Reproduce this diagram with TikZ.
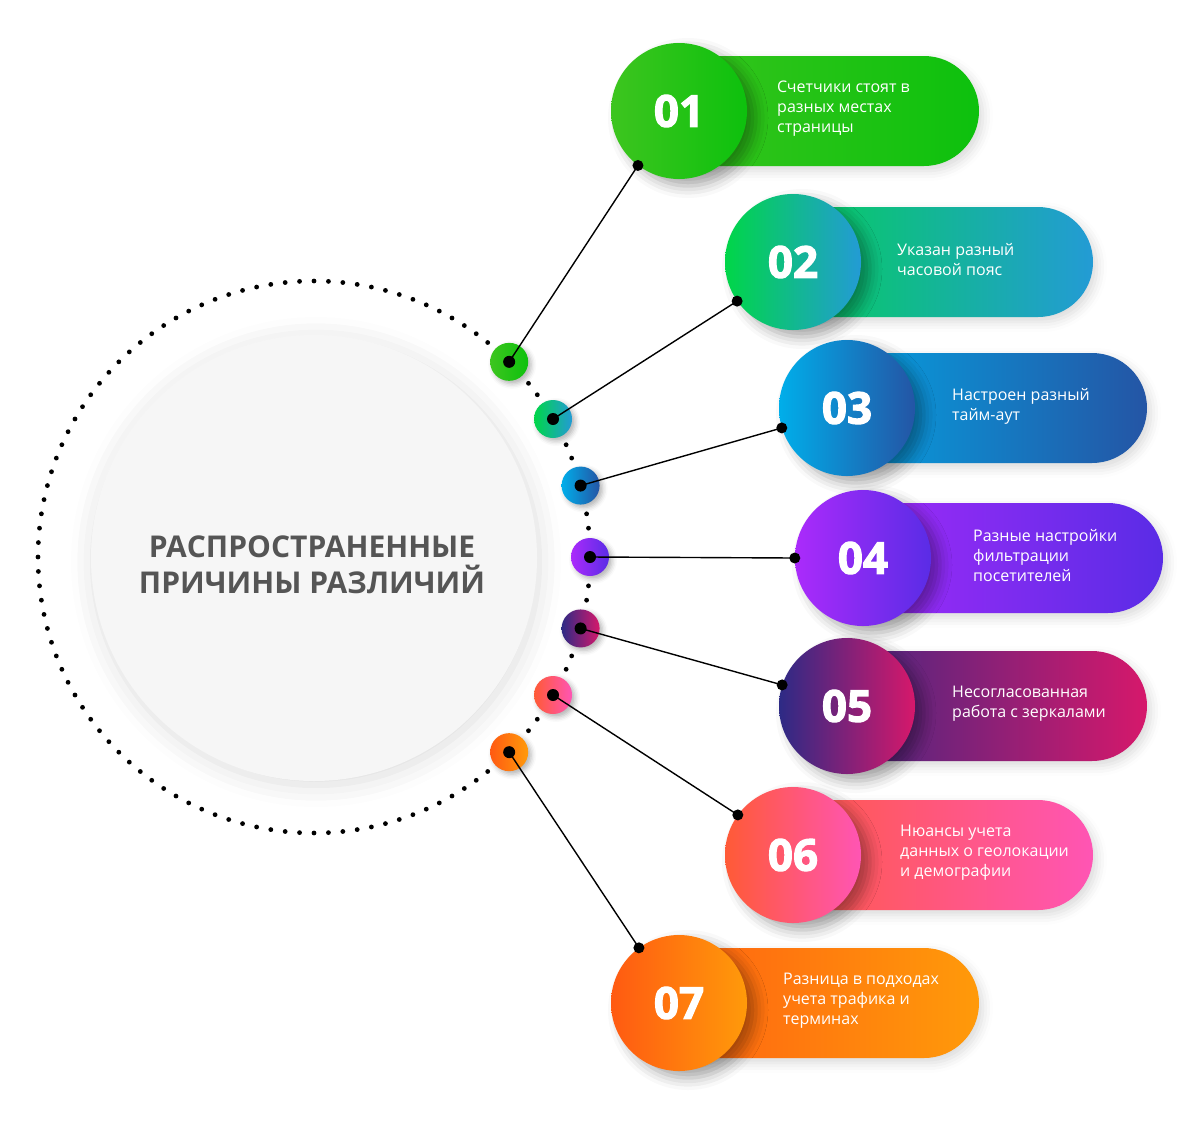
\documentclass[tikz,border=0pt]{standalone}
\usepackage{fontspec}
\setmainfont{Open Sans}
\newfontfamily\numfont[BoldFeatures={FakeBold=2.5}]{Open Sans}
\usetikzlibrary{calc}
\usetikzlibrary{shadows.blur}
\definecolor{bgc}{HTML}{F6F6F6}
\definecolor{titc}{HTML}{555555}
\definecolor{c1a}{HTML}{3DC51F}\definecolor{c1b}{HTML}{0DC10D}
\definecolor{c2a}{HTML}{00D648}\definecolor{c2b}{HTML}{239BD5}
\definecolor{c3a}{HTML}{00AEEA}\definecolor{c3b}{HTML}{2455A5}
\definecolor{c4a}{HTML}{AB2BFB}\definecolor{c4b}{HTML}{5A2CE6}
\definecolor{c5a}{HTML}{2D2A85}\definecolor{c5b}{HTML}{D6186B}
\definecolor{c6a}{HTML}{FF5A36}\definecolor{c6b}{HTML}{FF55B4}
\definecolor{c7a}{HTML}{FF5A12}\definecolor{c7b}{HTML}{FF9A0A}

\tikzset{
  smallc/.style={circle, minimum size=38pt, inner sep=0pt,
    blur shadow={shadow xshift=3pt, shadow yshift=-3pt, shadow blur radius=5pt, shadow opacity=30}},
  numc/.style={circle, minimum size=136pt, inner sep=0pt, text=white,
    font=\fontsize{44}{44}\numfont\bfseries,
    blur shadow={shadow xshift=9pt, shadow yshift=-7pt, shadow blur radius=12pt, shadow opacity=35}},
  pill/.style={rounded corners=55pt,
    blur shadow={shadow xshift=4pt, shadow yshift=-5pt, shadow blur radius=10pt, shadow opacity=15}},
  pilltext/.style={anchor=west, align=left, text=white, inner sep=0pt,
    font=\fontsize{16}{20}\selectfont},
  wire/.style={line width=1.4pt, black}
}

\begin{document}
\begin{tikzpicture}[x=1pt, y=-1pt]
\useasboundingbox (0,0) rectangle (1200,1120);

\coordinate (o) at (314,557);
\foreach \t in {0,3,...,357}
  \fill ($(o)+(\t:276)$) circle (2.4);

\node[circle, minimum size=446pt, fill=bgc,
  blur shadow={shadow xshift=2pt, shadow yshift=-4pt, shadow blur radius=22pt, shadow opacity=14}] (core) at (314,558) {};
\node[align=center, text=titc, font=\fontsize{30}{36}\selectfont\bfseries] (title) at (312,565)
  {РАСПРОСТРАНЕННЫЕ\\ПРИЧИНЫ РАЗЛИЧИЙ};

\foreach \i/\a/\cx/\cy/\dx/\txt in {
  1/45/679/111/98/{Счетчики стоят в\\разных местах\\страницы},
  2/30/793/262/104/{Указан разный\\часовой пояс},
  3/15/847/408/105/{Настроен разный\\тайм-аут},
  4/0/863/558/110/{Разные настройки\\фильтрации\\посетителей},
  5/-15/847/706/105/{Несогласованная\\работа с зеркалами},
  6/-30/793/855/107/{Нюансы учета\\данных о геолокации\\и демографии},
  7/-45/679/1003/104/{Разница в подходах\\учета трафика и\\терминах}}{
  \shade[pill, left color=c\i a, right color=c\i b] (\cx-55,\cy-55) rectangle (\cx+300,\cy+55);
  \node[pilltext] (t\i) at (\cx+\dx,\cy-2) {\txt};
  \node[numc, left color=c\i a, right color=c\i b] (n\i) at (\cx,\cy) {0\i};
  \node[smallc, left color=c\i a, right color=c\i b] (d\i) at ($(o)+(-\a:276)$) {};
  \pgfmathtruncatemacro\e{180+1.2*\a}
  \draw[wire] (d\i.center) -- (n\i.\e);
  \fill (d\i.center) circle (6);
  \fill (n\i.\e) circle (5.5);
}
\end{tikzpicture}
\end{document}
